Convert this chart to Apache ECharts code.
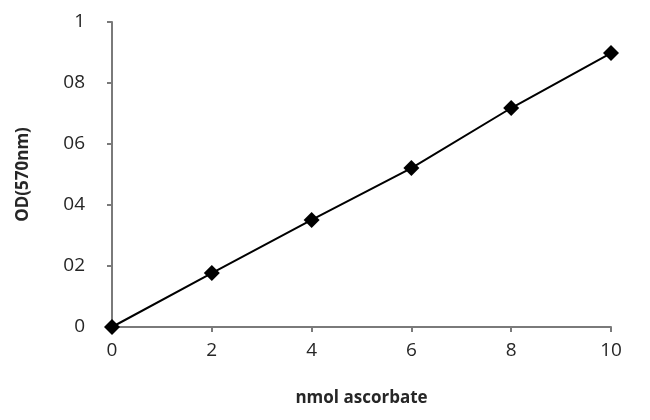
<!DOCTYPE html>
<html>
<head>
<meta charset="utf-8">
<script src="https://cdn.jsdelivr.net/npm/echarts@6/dist/echarts.min.js"></script>
<style>
  html, body { margin: 0; padding: 0; background: #fff; }
  #chart { width: 650px; height: 420px; }
</style>
</head>
<body>
<div id="chart"></div>
<script>
// standard curve values
const xValues = [0, 2, 4, 6, 8, 10]
const odValues = [0, 0.177, 0.351, 0.521, 0.718, 0.898]
const yTickLabels = { 0: '0', 0.2: '02', 0.4: '04', 0.6: '06', 0.8: '08', 1: '1' }

const chart = echarts.init(document.getElementById('chart'))

const labelFont = {
  fontFamily: 'Open Sans',
  fontSize: 19,
  color: '#262626'
}

const titleFont = {
  fontFamily: 'Open Sans',
  fontWeight: 'bold',
  fontSize: 17,
  color: '#262626'
}

const option = {
  animation: false,
  grid: {
    left: 112,
    right: 39,
    top: 22,
    bottom: 93
  },
  xAxis: {
    type: 'value',
    min: 0,
    max: 10,
    interval: 2,
    name: 'nmol ascorbate',
    nameLocation: 'middle',
    nameGap: 63,
    nameTextStyle: titleFont,
    axisLine: { lineStyle: { color: '#7a7a7a', width: 2 } },
    axisTick: { show: true, length: 5, lineStyle: { color: '#7a7a7a', width: 2 } },
    axisLabel: { ...labelFont, margin: 14 },
    splitLine: { show: false }
  },
  yAxis: {
    type: 'value',
    min: 0,
    max: 1,
    interval: 0.2,
    name: 'OD(570nm)',
    nameLocation: 'middle',
    nameGap: 80,
    nameTextStyle: titleFont,
    axisLine: { show: true, lineStyle: { color: '#7a7a7a', width: 2 } },
    axisTick: { show: true, length: 5, lineStyle: { color: '#7a7a7a', width: 2 } },
    axisLabel: {
      ...labelFont,
      margin: 27,
      formatter: (v) => yTickLabels[Math.round(v * 10) / 10] ?? String(v)
    },
    splitLine: { show: false }
  },
  series: [
    {
      type: 'line',
      data: xValues.map((x, i) => [x, odValues[i]]),
      symbol: 'diamond',
      symbolSize: 16,
      itemStyle: { color: '#000' },
      lineStyle: { color: '#000', width: 2 }
    }
  ]
}

chart.setOption(option)
</script>
</body>
</html>
